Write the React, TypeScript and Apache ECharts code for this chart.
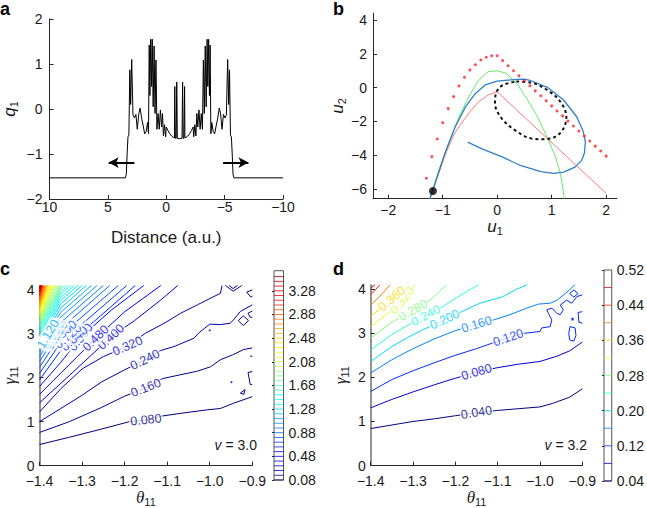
import React, { useEffect, useRef } from 'react';
import * as echarts from 'echarts';

// ---------------- Panel a ----------------
const aXTicks = [10, 5, 0, -5, -10];
const aYTicks = [-2, -1, 0, 1, 2];
const aCurve: number[][] = [
  [10, -1.53], [3.5, -1.53], [3.42, -1.45], [3.35, -1.0], [3.28, -0.62], [3.2, -0.58], [3.12, 0.87], [3.05, 0.1],
  [2.96, 1.1], [2.85, -0.13], [2.72, -0.2], [2.6, -0.12], [2.48, -0.45], [2.35, -0.1], [2.24, 0.02], [2.1, -0.22],
  [1.97, -0.38], [1.85, -0.55], [1.72, -0.5], [1.6, -0.3], [1.52, -0.55], [1.46, 1.42], [1.4, 0.3], [1.33, 1.55],
  [1.26, 0.5], [1.2, 1.55], [1.12, 0.05], [1.04, 1.4], [0.96, -0.1], [0.88, 1.09], [0.8, -0.45], [0.7, -0.1],
  [0.6, -0.45], [0.5, -0.02], [0.4, -0.4], [0.32, -0.1], [0.24, -0.6], [0.15, -0.35], [0.05, -0.62], [0.0, -0.4],
  [-0.15, -0.48], [-0.3, -0.55], [-0.45, -0.6], [-0.6, -0.63], [-0.7, -0.64], [-0.73, 0.5], [-0.78, -0.65],
  [-0.85, -0.65], [-0.9, 0.6], [-0.95, -0.65], [-1.15, -0.66], [-1.35, -0.65], [-1.4, 0.6], [-1.45, -0.65],
  [-1.52, -0.65], [-1.57, 0.5], [-1.6, -0.64], [-1.7, -0.63], [-1.85, -0.6], [-2.0, -0.55], [-2.15, -0.48],
  [-2.3, -0.4], [-2.35, -0.62], [-2.45, -0.35], [-2.54, -0.6], [-2.62, -0.1], [-2.7, -0.4], [-2.8, -0.02],
  [-2.9, -0.45], [-3.0, -0.1], [-3.1, -0.45], [-3.18, 1.09], [-3.26, -0.1], [-3.34, 1.4], [-3.42, 0.05],
  [-3.5, 1.55], [-3.56, 0.5], [-3.63, 1.55], [-3.7, 0.3], [-3.76, 1.42], [-3.82, -0.55], [-3.9, -0.3],
  [-4.02, -0.5], [-4.15, -0.55], [-4.27, -0.38], [-4.4, -0.22], [-4.54, 0.02], [-4.65, -0.1], [-4.78, -0.45],
  [-4.9, -0.12], [-5.02, -0.2], [-5.15, -0.13], [-5.26, 1.1], [-5.35, 0.1], [-5.42, 0.87], [-5.5, -0.58],
  [-5.58, -0.62], [-5.65, -1.0], [-5.72, -1.45], [-5.8, -1.53], [-10, -1.53],
];
const aArrowLeft = [[2.73, -1.19], [4.93, -1.19]];
const aArrowRight = [[-4.87, -1.19], [-7.04, -1.19]];

// ---------------- Panel b ----------------
const bXTicks = [-2, -1, 0, 1, 2];
const bYTicks = [-6, -4, -2, 0, 2, 4];
const bRedDots: number[][] = [
  [-1.3, -5.36], [-1.2, -4.08], [-1.1, -3.04], [-1.0, -2.07], [-0.9, -1.24], [-0.8, -0.53], [-0.7, 0.1],
  [-0.6, 0.61], [-0.5, 1.05], [-0.4, 1.36], [-0.3, 1.64], [-0.2, 1.8], [-0.1, 1.89], [0, 1.89], [0.1, 1.6],
  [0.2, 1.3], [0.3, 1.0], [0.4, 0.71], [0.5, 0.41], [0.6, 0.11], [0.7, -0.19], [0.8, -0.48], [0.9, -0.78],
  [1.0, -1.08], [1.1, -1.38], [1.2, -1.67], [1.3, -1.97], [1.4, -2.27], [1.5, -2.56], [1.6, -2.86],
  [1.7, -3.16], [1.8, -3.46], [1.9, -3.75], [2.0, -4.05],
];
const bBlue: number[][] = [
  [-1.235, -6.57], [-1.1, -5.27], [-0.95, -3.79], [-0.77, -2.31], [-0.58, -1.12], [-0.4, -0.34], [-0.22, 0.16],
  [0, 0.39], [0.2, 0.45], [0.38, 0.49], [0.5, 0.5], [0.62, 0.41], [0.92, 0.02], [1.22, -0.73], [1.46, -1.72],
  [1.58, -2.6], [1.62, -3.2], [1.6, -3.9], [1.55, -4.3], [1.43, -4.7], [1.22, -5.0], [1.04, -5.07], [0.8, -4.97],
  [0.44, -4.62], [0.08, -4.08], [-0.28, -3.62], [-0.54, -3.22],
];
const bGreen: number[][] = [
  [-1.235, -6.57], [-1.07, -4.87], [-0.89, -3.29], [-0.7, -1.72], [-0.52, -0.53], [-0.34, 0.45], [-0.16, 0.95],
  [0, 1.0], [0.17, 0.85], [0.38, 0.16], [0.56, -0.73], [0.74, -1.72], [0.92, -2.95], [1.07, -4.08],
  [1.16, -5.07], [1.235, -6.57],
];
const bRed: number[][] = [
  [-1.235, -6.57], [-1.1, -5.3], [-0.95, -3.95], [-0.8, -2.8], [-0.7, -2.3], [-0.52, -1.5], [-0.34, -0.83],
  [-0.16, -0.43], [0, -0.24], [2.0, -6.25],
];
const bEllipse: number[][] = [
  [0.35, 0.36], [0.62, 0.3], [0.92, -0.14], [1.16, -0.83], [1.27, -1.72], [1.22, -2.4], [1.07, -2.9],
  [0.86, -3.05], [0.62, -3.0], [0.32, -2.5], [0.08, -1.81], [-0.04, -0.92], [-0.01, -0.24], [0.11, 0.16],
  [0.35, 0.36],
];
const bStart = [-1.18, -6.11];

// ---------------- Panel c ----------------
const thetaTicks = [-1.4, -1.3, -1.2, -1.1, -1.0, -0.9];
const gammaTicks = [0, 1, 2, 3, 4];
const cLine008 = [[-1.4, 0.48], [-1.332, 0.64], [-1.255, 0.83], [-1.189, 1.0], [-1.15, 1.04], [-1.111, 1.13], [-1.068, 1.19], [-1.006, 1.27], [-0.975, 1.3], [-0.944, 1.42], [-0.9, 1.57]];
const cLine016 = [[-1.4, 0.755], [-1.33, 1.0], [-1.255, 1.32], [-1.2, 1.58], [-1.15, 1.77], [-1.111, 1.98], [-1.068, 2.07], [-1.029, 2.15], [-0.998, 2.25], [-0.975, 2.41], [-0.944, 2.53], [-0.921, 2.64], [-0.9, 2.68]];
const cLine024 = [[-1.4, 1.0], [-1.35, 1.3], [-1.3, 1.6], [-1.255, 1.9], [-1.2, 2.18], [-1.152, 2.41], [-1.115, 2.62], [-1.084, 2.71], [-1.037, 2.9], [-1.026, 3.02], [-1.0, 3.22], [-0.975, 3.21], [-0.952, 3.24], [-0.944, 3.32], [-0.928, 3.51], [-0.9, 3.66]];
const cLine032 = [[-1.4, 1.22], [-1.35, 1.75], [-1.3, 2.2], [-1.25, 2.48], [-1.193, 2.72], [-1.15, 3.02], [-1.107, 3.24], [-1.068, 3.47], [-1.029, 3.66], [-0.99, 3.85], [-0.975, 3.92], [-0.971, 4.1]];
const cLine040 = [[-1.4, 1.43], [-1.33, 2.05], [-1.28, 2.5], [-1.232, 2.93], [-1.177, 3.3], [-1.115, 3.77], [-1.075, 4.1]];
const cLine048 = [[-1.4, 1.62], [-1.33, 2.3], [-1.268, 2.9], [-1.2, 3.5], [-1.115, 4.1]];
const cLine056 = [[-1.4, 1.8], [-1.35, 2.35], [-1.303, 2.92], [-1.23, 3.55], [-1.155, 4.1]];
const cFanLevels = [0.64, 0.72, 0.8, 0.88, 0.96, 1.04, 1.12, 1.2, 1.28, 1.36, 1.44, 1.52, 1.6, 1.68, 1.76, 1.84, 1.92, 2.0, 2.08, 2.16, 2.24, 2.32, 2.4, 2.48, 2.56, 2.64, 2.72, 2.8, 2.88, 2.96, 3.04, 3.12, 3.2, 3.28, 3.36, 3.44, 3.52];
const cFanStart = [1.95, 2.1, 2.24, 2.37, 2.48, 2.58, 2.67, 2.75, 2.83, 2.9, 2.97, 3.03, 3.09, 3.15, 3.2, 3.25, 3.3, 3.35, 3.4, 3.44, 3.48, 3.52, 3.56, 3.6, 3.64, 3.68, 3.72, 3.76, 3.8, 3.84, 3.87, 3.9, 3.93, 3.96, 3.99, 4.02, 4.05];
const cFanMidTheta = -1.35;
const cFanMid = [2.62, 2.8, 2.97, 3.12, 3.26, 3.38, 3.49, 3.59, 3.68, 3.76, 3.83, 3.9, 3.96, 4.02, 4.07, null, null, null, null, null, null, null, null, null, null, null, null, null, null, null, null, null, null, null, null, null, null];
const cFanEnd = [-1.175, -1.195, -1.215, -1.235, -1.25, -1.265, -1.278, -1.29, -1.3, -1.31, -1.318, -1.326, -1.333, -1.34, -1.346, -1.352, -1.357, -1.361, -1.365, -1.369, -1.372, -1.375, -1.378, -1.381, -1.383, -1.385, -1.387, -1.389, -1.391, -1.392, -1.393, -1.394, -1.395, -1.396, -1.397, -1.398, -1.399];
const cExtras = [
  [[-0.963, 4.1], [-0.945, 3.97], [-0.925, 4.1]],
  [[-0.955, 4.1], [-0.945, 4.03], [-0.935, 4.1]],
  [[-0.9, 4.0], [-0.913, 3.95], [-0.905, 3.85], [-0.9, 3.84]],
  [[-0.933, 3.3], [-0.921, 3.41], [-0.909, 3.3], [-0.921, 3.19], [-0.933, 3.3]],
  [[-0.9, 3.52], [-0.91, 3.47], [-0.905, 3.38], [-0.9, 3.37]],
  [[-0.905, 2.49], [-0.9, 2.49]],
  [[-0.9, 2.14], [-0.91, 2.12], [-0.905, 1.85], [-0.9, 1.84]],
  [[-0.928, 1.65], [-0.917, 1.73], [-0.92, 1.62], [-0.928, 1.65]],
];
const cDots = [[-0.949, 1.9], [-1.0, 3.08]];
const cLabelAt = [[0.08, -1.15], [0.16, -1.15], [0.24, -1.152], [0.32, -1.193], [0.4, -1.232], [0.48, -1.268], [0.56, -1.303], [0.64, -1.318], [0.72, -1.333], [0.8, -1.344], [0.88, -1.36], [0.96, -1.368], [1.04, -1.375], [1.12, -1.38]];
const cBarLevels = [0.08, 0.16, 0.24, 0.32, 0.4, 0.48, 0.56, 0.64, 0.72, 0.8, 0.88, 0.96, 1.04, 1.12, 1.2, 1.28, 1.36, 1.44, 1.52, 1.6, 1.68, 1.76, 1.84, 1.92, 2.0, 2.08, 2.16, 2.24, 2.32, 2.4, 2.48, 2.56, 2.64, 2.72, 2.8, 2.88, 2.96, 3.04, 3.12, 3.2, 3.28, 3.36, 3.44, 3.52];
const cBarTicks = [0.08, 0.48, 0.88, 1.28, 1.68, 2.08, 2.48, 2.88, 3.28];
const cRange = [0.08, 3.62];

// ---------------- Panel d ----------------
const dLine004 = [[-1.4, 0.84], [-1.35, 0.92], [-1.3, 1.0], [-1.25, 1.06], [-1.2, 1.13], [-1.15, 1.2], [-1.1, 1.25], [-1.05, 1.29], [-1.0, 1.33], [-0.97, 1.41], [-0.93, 1.55], [-0.9, 1.74]];
const dLine008 = [[-1.4, 1.31], [-1.35, 1.5], [-1.3, 1.67], [-1.25, 1.83], [-1.2, 1.98], [-1.15, 2.12], [-1.1, 2.22], [-1.05, 2.3], [-1.0, 2.36], [-0.96, 2.48], [-0.93, 2.6], [-0.9, 2.8]];
const dLine012 = [[-1.4, 1.68], [-1.35, 1.95], [-1.3, 2.15], [-1.25, 2.33], [-1.2, 2.5], [-1.15, 2.65], [-1.1, 2.82], [-1.075, 2.9], [-1.035, 3.0], [-1.0, 3.04], [-0.996, 3.12], [-0.976, 3.15], [-0.972, 3.3], [-0.98, 3.45], [-0.984, 3.53], [-0.972, 3.57], [-0.96, 3.45], [-0.952, 3.42], [-0.945, 3.53], [-0.952, 3.64], [-0.937, 3.75], [-0.925, 3.68], [-0.913, 3.83], [-0.9, 3.87]];
const dLine016 = [[-1.4, 2.1], [-1.35, 2.4], [-1.3, 2.65], [-1.25, 2.87], [-1.2, 3.06], [-1.15, 3.2], [-1.11, 3.3], [-1.071, 3.42], [-1.031, 3.57], [-1.004, 3.66], [-0.976, 3.68], [-0.96, 3.75], [-0.94, 3.9], [-0.917, 4.1]];
const dLine020 = [[-1.4, 2.36], [-1.35, 2.7], [-1.3, 2.97], [-1.25, 3.2], [-1.2, 3.42], [-1.142, 3.68], [-1.087, 3.83], [-1.055, 4.0], [-1.03, 4.1]];
const dLine024 = [[-1.4, 2.62], [-1.35, 2.97], [-1.3, 3.25], [-1.27, 3.4], [-1.23, 3.6], [-1.19, 3.85], [-1.145, 4.1]];
const dLine028 = [[-1.4, 2.89], [-1.35, 3.25], [-1.3, 3.52], [-1.26, 3.75], [-1.22, 4.1]];
const dLine032 = [[-1.4, 3.15], [-1.36, 3.45], [-1.33, 3.68], [-1.295, 4.1]];
const dLine036 = [[-1.4, 3.38], [-1.37, 3.62], [-1.35, 3.78], [-1.327, 4.1]];
const dLine040 = [[-1.4, 3.64], [-1.38, 3.82], [-1.354, 4.1]];
const dLine044 = [[-1.4, 3.87], [-1.378, 4.1]];
const dLine048 = [[-1.4, 4.02], [-1.39, 4.1]];
const dExtras = [
  [[-0.929, 3.15], [-0.917, 3.12], [-0.915, 2.95], [-0.92, 2.82], [-0.93, 2.85], [-0.932, 3.0], [-0.929, 3.15]],
  [[-0.9, 3.49], [-0.91, 3.47], [-0.908, 3.25], [-0.9, 3.23]],
  [[-0.93, 3.9], [-0.92, 3.98], [-0.91, 3.9], [-0.92, 3.82], [-0.93, 3.9]],
];
const dDots = [[-0.923, 3.32]];
const dLabelAt = [[0.04, -1.15], [0.08, -1.15], [0.12, -1.075], [0.16, -1.15], [0.2, -1.225], [0.24, -1.27], [0.28, -1.3], [0.32, -1.325], [0.36, -1.35]];
const dBarLevels = [0.04, 0.08, 0.12, 0.16, 0.2, 0.24, 0.28, 0.32, 0.36, 0.4, 0.44, 0.48];
const dBarTicks = [0.04, 0.12, 0.2, 0.28, 0.36, 0.44, 0.52];
const dRange = [0.04, 0.52];

// ---------------- helpers ----------------
const FONT = '"Liberation Sans", Arial, Helvetica, sans-serif';
const SERIF = '"Liberation Serif", "Times New Roman", serif';
const AX = '#262626';
const TXT = '#1a1a1a';

function jet(t: number) {
  const c = (v: number) => Math.max(0, Math.min(1, v));
  const tt = c(t);
  const r = c(1.5 - Math.abs(4 * tt - 3));
  const g = c(1.5 - Math.abs(4 * tt - 2));
  const b = c(1.5 - Math.abs(4 * tt - 1));
  return `rgb(${Math.round(r * 255)},${Math.round(g * 255)},${Math.round(b * 255)})`;
}
const cColor = (v: number) => jet((v - cRange[0]) / (cRange[1] - cRange[0]));
const dColor = (v: number) => jet((v - dRange[0]) / (dRange[1] - dRange[0]));
const minus = (s: string) => s.replace('-', '\u2212');

function labelOn(pts: number[][], theta: number, sx: number, sy: number) {
  for (let i = 0; i < pts.length - 1; i++) {
    const [x1, y1] = pts[i];
    const [x2, y2] = pts[i + 1];
    if (x1 !== x2 && (theta - x1) * (theta - x2) <= 0) {
      const t = (theta - x1) / (x2 - x1);
      const rot = (Math.atan2((y2 - y1) * sy, (x2 - x1) * sx) * 180) / Math.PI;
      return { pos: [theta, y1 + t * (y2 - y1)], rot };
    }
  }
  return null;
}

function subRich(serif: boolean) {
  return {
    m: { fontSize: 17, lineHeight: 20, fontStyle: 'italic', fontFamily: serif ? SERIF : FONT, color: TXT },
    s: { fontSize: 11, lineHeight: 11, verticalAlign: 'bottom', fontFamily: FONT, color: TXT },
  };
}

function axis(gridIndex: number, extra: any) {
  return {
    gridIndex,
    type: 'value',
    splitLine: { show: false },
    axisLine: { show: true, onZero: false, lineStyle: { color: AX, width: 1 } },
    axisTick: { show: true, inside: true, length: 4, lineStyle: { color: AX } },
    axisLabel: { fontSize: 14, color: TXT, fontFamily: FONT },
    nameTextStyle: { fontSize: 16, color: TXT, fontFamily: FONT },
    ...extra,
  };
}

function lineSeries(xi: number, data: number[][], color: string, width = 1, extra: any = {}) {
  return {
    type: 'line', xAxisIndex: xi, yAxisIndex: xi, data, symbol: 'none', showSymbol: false, silent: true,
    lineStyle: { color, width }, z: 2, ...extra,
  };
}

function buildOption() {
  const series: any[] = [];
  // a
  series.push(lineSeries(0, aCurve, '#000', 1, {
    markLine: {
      silent: true, symbol: ['none', 'arrow'], symbolSize: [8, 10],
      lineStyle: { color: '#000', width: 2, type: 'solid' }, label: { show: false },
      data: [
        [{ coord: aArrowLeft[0] }, { coord: aArrowLeft[1] }],
        [{ coord: aArrowRight[0] }, { coord: aArrowRight[1] }],
      ],
    },
  }));
  // b
  series.push(lineSeries(1, bGreen, '#66e866', 1));
  series.push(lineSeries(1, bRed, '#ff7a7a', 1));
  series.push(lineSeries(1, bBlue, '#2f80c8', 1.3));
  series.push(lineSeries(1, bEllipse, '#111', 2, { smooth: 0.35, lineStyle: { color: '#111', width: 2, type: [3, 3] } }));
  series.push({ type: 'scatter', xAxisIndex: 1, yAxisIndex: 1, data: bRedDots, symbolSize: 3, itemStyle: { color: '#ff2020' }, silent: true, z: 3 });
  series.push({ type: 'scatter', xAxisIndex: 1, yAxisIndex: 1, data: [bStart], symbolSize: 8, itemStyle: { color: '#000' }, silent: true, z: 4 });

  // c
  const cSx = 214.6 / 0.5, cSy = 181.2 / 4.1;
  const cLines: [number, number[][]][] = [
    [0.08, cLine008], [0.16, cLine016], [0.24, cLine024], [0.32, cLine032], [0.4, cLine040], [0.48, cLine048], [0.56, cLine056],
  ];
  cFanLevels.forEach((lv, i) => {
    const pts: number[][] = [[-1.4, cFanStart[i]]];
    if (cFanMid[i] != null) pts.push([cFanMidTheta, cFanMid[i] as number]);
    pts.push([cFanEnd[i], 4.1]);
    cLines.push([lv, pts]);
  });
  cLines.forEach(([lv, pts]) => series.push(lineSeries(2, pts, cColor(lv), 1)));
  cExtras.forEach((pts) => series.push(lineSeries(2, pts, cColor(0.16), 1)));
  series.push({ type: 'scatter', xAxisIndex: 2, yAxisIndex: 2, data: cDots, symbolSize: 2, itemStyle: { color: cColor(0.16) }, silent: true });
  const cLabelItems: any[] = [];
  cLabelAt.forEach(([lv, th]) => {
    const found = cLines.find((l) => Math.abs(l[0] - lv) < 1e-6);
    if (!found) return;
    const r = labelOn(found[1], th, cSx, cSy);
    if (!r) return;
    cLabelItems.push({ value: r.pos, label: { formatter: lv.toFixed(3), rotate: r.rot, color: cColor(lv) } });
  });
  series.push({
    type: 'scatter', xAxisIndex: 2, yAxisIndex: 2, data: cLabelItems, symbolSize: 1, z: 6, silent: true,
    itemStyle: { color: 'rgba(0,0,0,0)' },
    label: { show: true, position: 'inside', fontSize: 12.5, fontFamily: FONT, backgroundColor: '#fff', padding: [0, 1] },
  });

  // d
  const dSx = 211.6 / 0.5, dSy = 182 / 4.1;
  const dLines: [number, number[][]][] = [
    [0.04, dLine004], [0.08, dLine008], [0.12, dLine012], [0.16, dLine016], [0.2, dLine020], [0.24, dLine024],
    [0.28, dLine028], [0.32, dLine032], [0.36, dLine036], [0.4, dLine040], [0.44, dLine044], [0.48, dLine048],
  ];
  dLines.forEach(([lv, pts]) => series.push(lineSeries(3, pts, dColor(lv), 1)));
  dExtras.forEach((pts) => series.push(lineSeries(3, pts, dColor(0.12), 1)));
  series.push({ type: 'scatter', xAxisIndex: 3, yAxisIndex: 3, data: dDots, symbolSize: 3, itemStyle: { color: dColor(0.12) }, silent: true });
  const dLabelItems: any[] = [];
  dLabelAt.forEach(([lv, th]) => {
    const found = dLines.find((l) => Math.abs(l[0] - lv) < 1e-6);
    if (!found) return;
    const r = labelOn(found[1], th, dSx, dSy);
    if (!r) return;
    dLabelItems.push({ value: r.pos, label: { formatter: lv.toFixed(3), rotate: r.rot, color: dColor(lv) } });
  });
  series.push({
    type: 'scatter', xAxisIndex: 3, yAxisIndex: 3, data: dLabelItems, symbolSize: 1, z: 6, silent: true,
    itemStyle: { color: 'rgba(0,0,0,0)' },
    label: { show: true, position: 'inside', fontSize: 12.5, fontFamily: FONT, backgroundColor: '#fff', padding: [0, 1] },
  });

  // colorbars
  const barSeries = (idx: number, levels: number[], colorFn: (v: number) => string) => ({
    type: 'custom', xAxisIndex: idx, yAxisIndex: idx, silent: true, data: levels.map((v) => [0, v]),
    renderItem: (_p: any, api: any) => {
      const v = api.value(1);
      const p1 = api.coord([0, v]);
      const p2 = api.coord([1, v]);
      return { type: 'line', shape: { x1: p1[0], y1: p1[1], x2: p2[0], y2: p2[1] }, style: { stroke: colorFn(v), lineWidth: 1, opacity: 0.8 } };
    },
  });
  series.push(barSeries(4, cBarLevels, cColor));
  series.push(barSeries(5, dBarLevels, dColor));

  const thetaAxis = (gi: number) => axis(gi, {
    min: -1.4, max: -0.9,
    axisLabel: { fontSize: 14, lineHeight: 12, color: TXT, fontFamily: FONT, margin: 9, customValues: thetaTicks, formatter: (v: number) => minus(v.toFixed(1)) },
    axisTick: { show: true, inside: true, length: 4, customValues: thetaTicks, lineStyle: { color: AX } },
    name: '{m|\u03b8}{s|11}', nameLocation: 'middle', nameGap: 20,
    nameTextStyle: { rich: subRich(true) },
  });
  const gammaAxis = (gi: number) => axis(gi, {
    min: 0, max: 4.1,
    axisLine: { show: true, onZero: false, lineStyle: { color: '#707070', width: 1.5 } },
    axisLabel: { fontSize: 14, lineHeight: 12, color: TXT, fontFamily: FONT, margin: 5, padding: [0, 0, 3, 0], customValues: gammaTicks },
    axisTick: { show: true, inside: true, length: 4, customValues: gammaTicks, lineStyle: { color: AX } },
    name: '{m|\u03b3}{s|11}', nameLocation: 'middle', nameGap: 20,
    nameTextStyle: { rich: subRich(true) },
  });
  const barAxis = (gi: number, range: number[], ticks: number[]) => ({
    gridIndex: gi, type: 'value', position: 'right', min: range[0], max: range[1],
    splitLine: { show: false }, axisLine: { show: false },
    axisTick: { show: true, inside: true, length: 2, customValues: ticks, lineStyle: { color: AX } },
    axisLabel: { fontSize: 14, color: TXT, fontFamily: FONT, margin: 5, customValues: ticks, formatter: (v: number) => v.toFixed(2) },
  });
  const hiddenX = (gi: number) => ({ gridIndex: gi, type: 'value', min: 0, max: 1, show: false });

  return {
    animation: false,
    backgroundColor: '#fff',
    textStyle: { fontFamily: FONT },
    grid: [
      { left: 45, top: 19, width: 238, height: 180 },
      { left: 373, top: 13.3, width: 244, height: 185.4 },
      { left: 37.7, top: 285.5, width: 214.6, height: 181.2 },
      { left: 370.7, top: 284.7, width: 211.6, height: 182 },
      { left: 274, top: 270.7, width: 9.5, height: 209.3, show: true, borderColor: '#555', borderWidth: 1 },
      { left: 604, top: 270, width: 9.5, height: 211, show: true, borderColor: '#555', borderWidth: 1 },
    ],
    xAxis: [
      axis(0, {
        min: -10, max: 10, interval: 5, inverse: true,
        axisLabel: { fontSize: 14, color: TXT, fontFamily: FONT, margin: 1, customValues: aXTicks, formatter: (v: number) => minus(String(v)) },
        axisTick: { show: true, inside: true, length: 4, customValues: aXTicks, lineStyle: { color: AX } },
        name: 'Distance (a.u.)', nameLocation: 'middle', nameGap: 30,
        nameTextStyle: { fontSize: 17, color: TXT, fontFamily: FONT },
      }),
      axis(1, {
        min: -2.28, max: 2.2,
        axisLabel: { fontSize: 14, color: TXT, fontFamily: FONT, margin: 4, customValues: bXTicks, formatter: (v: number) => minus(String(v)) },
        axisTick: { show: true, inside: true, length: 4, customValues: bXTicks, lineStyle: { color: AX } },
        name: '{m|u}{s|1}', nameLocation: 'middle', nameGap: 18,
        nameTextStyle: { rich: subRich(false) },
      }),
      thetaAxis(2),
      thetaAxis(3),
      hiddenX(4),
      hiddenX(5),
    ],
    yAxis: [
      axis(0, {
        min: -2, max: 2, interval: 1,
        axisLabel: { fontSize: 14, color: TXT, fontFamily: FONT, margin: 7, customValues: aYTicks, formatter: (v: number) => minus(String(v)) },
        axisTick: { show: true, inside: true, length: 4, customValues: aYTicks, lineStyle: { color: AX } },
        name: '{m|q}{s|1}', nameLocation: 'middle', nameGap: 30,
        nameTextStyle: { rich: subRich(false) },
      }),
      axis(1, {
        min: -6.57, max: 4.4,
        axisLabel: { fontSize: 14, color: TXT, fontFamily: FONT, margin: 6, customValues: bYTicks, formatter: (v: number) => minus(String(v)) },
        axisTick: { show: true, inside: true, length: 4, customValues: bYTicks, lineStyle: { color: AX } },
        name: '{m|u}{s|2}', nameLocation: 'middle', nameGap: 25,
        nameTextStyle: { rich: subRich(false) },
      }),
      gammaAxis(2),
      gammaAxis(3),
      barAxis(4, cRange, cBarTicks),
      barAxis(5, dRange, dBarTicks),
    ],
    graphic: [
      { type: 'text', x: 0, y: 9, style: { text: 'a', font: `bold 18px ${FONT}`, fill: '#000', verticalAlign: 'middle' } },
      { type: 'text', x: 333, y: 9, style: { text: 'b', font: `bold 18px ${FONT}`, fill: '#000', verticalAlign: 'middle' } },
      { type: 'text', x: 0, y: 269, style: { text: 'c', font: `bold 18px ${FONT}`, fill: '#000', verticalAlign: 'middle' } },
      { type: 'text', x: 333, y: 269, style: { text: 'd', font: `bold 18px ${FONT}`, fill: '#000', verticalAlign: 'middle' } },
      { type: 'text', x: 257, y: 445, style: { text: '{i|v} = 3.0', font: `14px ${FONT}`, fill: TXT, align: 'right', verticalAlign: 'middle', rich: { i: { fontStyle: 'italic', fontSize: 14, fontFamily: FONT } } } },
      { type: 'text', x: 587, y: 445, style: { text: '{i|v} = 3.2', font: `14px ${FONT}`, fill: TXT, align: 'right', verticalAlign: 'middle', rich: { i: { fontStyle: 'italic', fontSize: 14, fontFamily: FONT } } } },
    ],
    series,
  };
}

export default function App() {
  const ref = useRef<HTMLDivElement>(null);
  useEffect(() => {
    if (!ref.current) return;
    const chart = echarts.init(ref.current, null, { renderer: 'svg' });
    chart.setOption(buildOption() as any);
    return () => chart.dispose();
  }, []);
  return <div ref={ref} style={{ position: 'absolute', left: 0, top: 0, width: 647, height: 508, background: '#fff' }} />;
}
